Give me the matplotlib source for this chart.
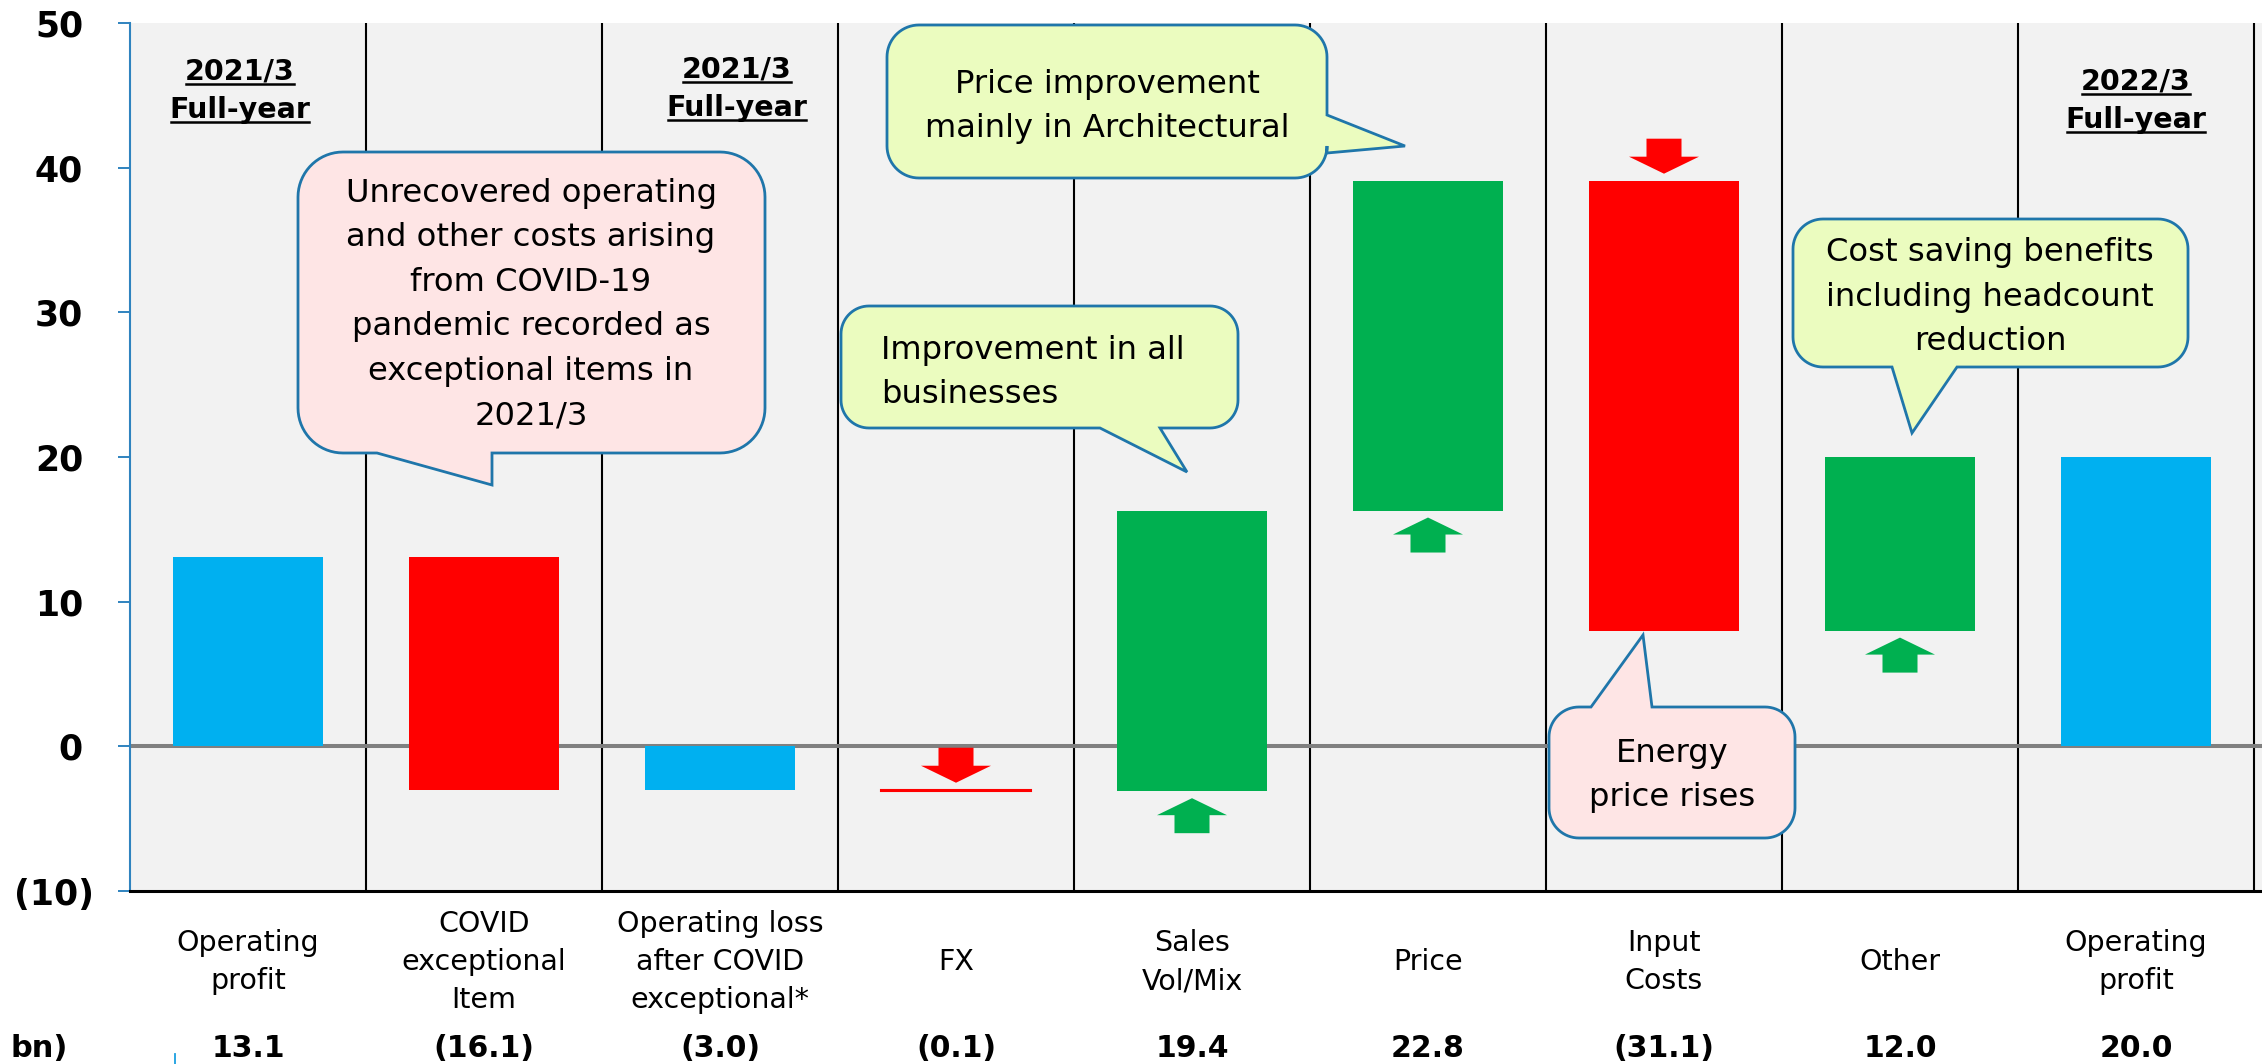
import matplotlib
matplotlib.use("Agg")
import matplotlib.pyplot as plt
import matplotlib.transforms as mtransforms
from matplotlib.patches import Polygon
from matplotlib.lines import Line2D
import numpy as np

# ---------------- data ----------------
categories = [["Operating", "profit"],
              ["COVID", "exceptional", "Item"],
              ["Operating loss", "after COVID", "exceptional*"],
              ["FX"],
              ["Sales", "Vol/Mix"],
              ["Price"],
              ["Input", "Costs"],
              ["Other"],
              ["Operating", "profit"]]
values = [13.1, -16.1, -3.0, -0.1, 19.4, 22.8, -31.1, 12.0, 20.0]
is_total = [True, False, True, False, False, False, False, False, True]
show_arrow = [False, False, False, True, True, True, True, True, False]
value_labels = ["13.1", "(16.1)", "(3.0)", "(0.1)", "19.4", "22.8", "(31.1)", "12.0", "20.0"]
ytick_values = [-10, 0, 10, 20, 30, 40, 50]
ytick_labels = ["(10)", "0", "10", "20", "30", "40", "50"]
unit_label = "bn)"
period_cols = [0, 2, 8]
period_labels = [["2021/3", "Full-year"], ["2021/3", "Full-year"], ["2022/3", "Full-year"]]

callout_texts = [
    ["Unrecovered operating", "and other costs arising", "from COVID-19",
     "pandemic recorded as", "exceptional items in", "2021/3"],
    ["Price improvement", "mainly in Architectural"],
    ["Improvement in all", "businesses"],
    ["Cost saving benefits", "including headcount", "reduction"],
    ["Energy", "price rises"],
]

# ---------------- style / layout ----------------
W, H, DPI = 2262, 1064, 100
BLUE, GREEN, RED = "#00b0f0", "#00b050", "#ff0000"
AXBLUE = "#2f83bf"
PINK, LIME = "#fee5e5", "#ebfcbf"
EDGE = "#1f76aa"
FONT = "DejaVu Sans"
plt.rcParams["font.family"] = [FONT]

fig = plt.figure(figsize=(W / DPI, H / DPI), dpi=DPI)
fig.patch.set_facecolor("white")
pix = mtransforms.Affine2D().scale(1 / DPI, -1 / DPI).translate(0, H / DPI) + fig.dpi_scale_trans

ax = fig.add_axes([130 / W, (H - 891) / H, (W - 130) / W, (891 - 23) / H])
ax.set_facecolor("#f2f2f2")
n = len(values)
col_px = (2254 - 130) / n
ax.set_xlim(-0.5, n - 0.5 + (W - 2254) / col_px)
ax.set_ylim(-10, 50)

for s in ["top", "right"]:
    ax.spines[s].set_visible(False)
ax.spines["left"].set_color(AXBLUE)
ax.spines["left"].set_linewidth(1.5)
ax.spines["bottom"].set_color("black")
ax.spines["bottom"].set_linewidth(2.2)
ax.spines["bottom"].set_zorder(6)
ax.set_xticks([])
ax.set_yticks(ytick_values)
ax.set_yticklabels([])
ax.tick_params(axis="y", length=8.6, width=1.4, color=AXBLUE, direction="out")

# column separators and zero line
for k in range(n):
    ax.axvline(k + 0.5, color="black", lw=1.5, zorder=1)
ax.axhline(0, color="#808080", lw=2.9, zorder=2)

# bars (waterfall)
xs = np.arange(n)
bottoms, heights, colors = [], [], []
running = 0.0
for v, tot in zip(values, is_total):
    if tot:
        bottoms.append(0.0)
        running = v
    else:
        bottoms.append(running)
        running += v
    heights.append(v)
    colors.append(BLUE if tot else (GREEN if v > 0 else RED))
bar_w = 150 / col_px
for x, b, h, c in zip(xs, bottoms, heights, colors):
    thin = abs(h) < 0.5
    ax.bar(x, h, bottom=b, width=bar_w, color=c, edgecolor=c,
           linewidth=1.5 if thin else 0, zorder=3)

# arrows (px geometry, tip at origin, pointing up)
hw, hh, sw, sh, gap = 35, 17, 17.5, 18, 7
up_arrow = np.array([(0, 0), (hw, -hh), (sw, -hh), (sw, -hh - sh),
                     (-sw, -hh - sh), (-sw, -hh), (-hw, -hh)], float)
for x, b, h, flag in zip(xs, bottoms, heights, show_arrow):
    if not flag:
        continue
    if h > 0:
        verts = (up_arrow + [0, -gap]) / DPI
        col = GREEN
    else:
        verts = (up_arrow * [1, -1] + [0, gap]) / DPI
        col = RED
    tr = fig.dpi_scale_trans + mtransforms.ScaledTranslation(x, b, ax.transData)
    ax.add_patch(Polygon(verts, closed=True, transform=tr, fc=col, ec="none",
                         zorder=4, clip_on=False))

# y tick labels (positive numbers leave room for the closing bracket)
ylab_tr = mtransforms.blended_transform_factory(pix, ax.transData)
for v, lab in zip(ytick_values, ytick_labels):
    xr = 94 if lab.startswith("(") else 83
    ax.text(xr, v, lab, transform=ylab_tr, ha="right", va="center_baseline",
            fontsize=25, fontweight="bold", color="black", clip_on=False)

# category labels and values
xlab_tr = mtransforms.blended_transform_factory(ax.transData, pix)
line_gap = 38.5
for x, lines in zip(xs, categories):
    m = len(lines)
    for i, ln in enumerate(lines):
        yb = 970 + (i - (m - 1) / 2) * line_gap
        ax.text(x, yb, ln, transform=xlab_tr, ha="center", va="baseline",
                fontsize=20.5, color="black", clip_on=False)
for x, lab in zip(xs, value_labels):
    ax.text(x, 1057, lab, transform=xlab_tr, ha="center", va="baseline",
            fontsize=21.5, fontweight="bold", color="black", clip_on=False)
fig.text(68, 1057, unit_label, transform=pix, ha="right", va="baseline",
         fontsize=22, fontweight="bold", color="black")
fig.add_artist(Line2D([175, 175], [1054, 1064], transform=pix, color="#1a9fe0", lw=1.3))

# period headers (bold, underlined)
period_dx = [-8, 17, 0]
period_base = [[80, 118], [78, 116], [90, 128]]
renderer = fig.canvas.get_renderer()
for c, lines, dx, bases in zip(period_cols, period_labels, period_dx, period_base):
    xc = ax.transData.transform((c, 0))[0] + dx
    for ln, yb in zip(lines, bases):
        t = fig.text(xc, yb, ln, transform=pix, ha="center", va="baseline",
                     fontsize=20.5, fontweight="bold", color="black", zorder=7)
        bb = t.get_window_extent(renderer)
        fig.add_artist(Line2D([bb.x0 + 1, bb.x1 - 1], [yb + 4, yb + 4], transform=pix,
                              color="black", lw=1.8, zorder=7))

# callouts
def callout_verts(x0, y0, x1, y1, r, side, a, b, tip):
    def arc(cx, cy, t0, t1, k=18):
        t = np.radians(np.linspace(t0, t1, k))
        return list(zip(cx + r * np.cos(t), cy + r * np.sin(t)))
    v = [(x0 + r, y0)]
    if side == "top":
        v += [(a, y0), tip, (b, y0)]
    v.append((x1 - r, y0))
    v += arc(x1 - r, y0 + r, -90, 0)
    if side == "right":
        v += [(x1, a), tip, (x1, b)]
    v.append((x1, y1 - r))
    v += arc(x1 - r, y1 - r, 0, 90)
    if side == "bottom":
        v += [(b, y1), tip, (a, y1)]
    v.append((x0 + r, y1))
    v += arc(x0 + r, y1 - r, 90, 180)
    v.append((x0, y0 + r))
    v += arc(x0 + r, y0 + r, 180, 270)
    return v

callout_layout = [
    dict(box=(298, 152, 765, 453), r=45, side="bottom", a=377, b=492, tip=(492, 485),
         fc=PINK, tx=531, cy=303, ha="center"),
    dict(box=(887, 25, 1327, 178), r=32, side="right", a=115, b=153, tip=(1405, 146),
         fc=LIME, tx=1107, cy=105, ha="center"),
    dict(box=(841, 306, 1238, 428), r=28, side="bottom", a=1100, b=1160, tip=(1187, 472),
         fc=LIME, tx=881, cy=371, ha="left"),
    dict(box=(1793, 219, 2188, 367), r=30, side="bottom", a=1892, b=1957, tip=(1912, 433),
         fc=LIME, tx=1990, cy=296, ha="center"),
    dict(box=(1549, 707, 1795, 838), r=30, side="top", a=1591, b=1652, tip=(1643, 635),
         fc=PINK, tx=1672, cy=774, ha="center"),
]
for lines, L in zip(callout_texts, callout_layout):
    verts = callout_verts(*L["box"], L["r"], L["side"], L["a"], L["b"], L["tip"])
    fig.add_artist(Polygon(verts, closed=True, transform=pix, fc=L["fc"], ec=EDGE,
                           lw=2.0, joinstyle="miter", zorder=8))
    m = len(lines)
    for i, ln in enumerate(lines):
        yc = L["cy"] + (i - (m - 1) / 2) * 44.5
        fig.text(L["tx"], yc + 10, ln, transform=pix, ha=L["ha"], va="baseline",
                 fontsize=23.2, color="black", zorder=9)

fig.savefig("out.png", dpi=DPI, facecolor="white")
